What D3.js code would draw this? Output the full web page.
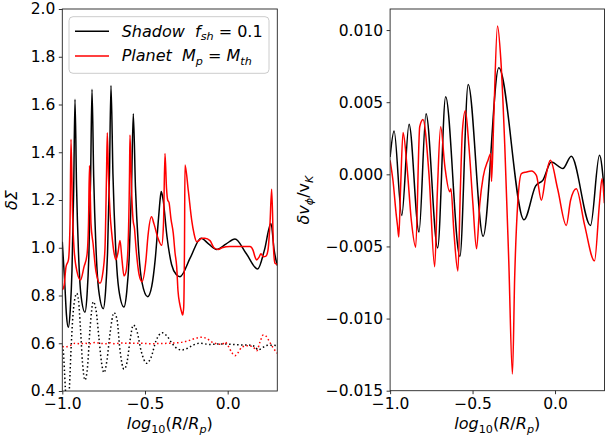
<!DOCTYPE html>
<html><head><meta charset="utf-8">
<script src="https://cdn.jsdelivr.net/npm/d3@7"></script>
<style>body{margin:0;background:#fff} svg{display:block} text{font-family:"DejaVu Sans",sans-serif;fill:#000}</style>
</head><body><svg id="c" width="605" height="441"></svg>
<script>
// ---------- Left panel: surface density ----------
const shadowSigmaX = [-1.000,-0.985,-0.975,-0.9637,-0.9516,-0.9414,-0.9313,-0.9232,-0.9141,-0.9021,-0.8870,-0.8628,-0.8501,-0.8395,-0.8289,-0.8204,-0.8102,-0.7965,-0.7794,-0.7521,-0.7382,-0.7265,-0.7149,-0.7056,-0.6938,-0.6781,-0.6584,-0.6270,-0.6101,-0.5960,-0.5819,-0.5707,-0.5577,-0.5403,-0.5185,-0.4837,-0.4590,-0.4385,-0.4179,-0.4073,-0.4015,-0.3902,-0.3676,-0.3393,-0.3110,-0.2884,-0.225,-0.1614,-0.114,-0.0665,-0.011,0.0441,0.113,0.1814,0.222,0.2618,0.281,0.300];
const shadowSigmaY = [1.025,0.85,0.72,0.667,0.743,0.906,1.240,1.622,1.265,0.980,0.801,0.730,0.805,0.964,1.290,1.664,1.296,1.002,0.819,0.745,0.820,0.979,1.306,1.680,1.309,1.012,0.826,0.752,0.817,0.954,1.238,1.561,1.255,1.009,0.856,0.795,0.839,0.949,1.126,1.21,1.236,1.20,1.05,0.93,0.888,0.879,0.96,1.040,1.015,0.993,1.015,1.037,0.975,0.911,0.99,1.102,0.99,0.925];

const planetSigmaX = [-1.000,-0.9897,-0.9776,-0.9625,-0.9534,-0.9474,-0.9383,-0.9293,-0.9111,-0.8900,-0.8688,-0.8507,-0.8416,-0.8356,-0.8265,-0.8144,-0.7963,-0.7721,-0.7539,-0.7418,-0.7328,-0.7279,-0.7207,-0.7116,-0.6995,-0.6874,-0.6753,-0.6632,-0.6511,-0.6391,-0.6270,-0.6149,-0.6028,-0.5937,-0.5907,-0.5816,-0.5725,-0.5635,-0.5544,-0.5363,-0.5181,-0.4940,-0.4819,-0.4607,-0.4456,-0.4214,-0.3990,-0.3881,-0.3791,-0.3700,-0.3628,-0.3549,-0.3428,-0.3289,-0.3186,-0.3083,-0.3005,-0.2884,-0.2781,-0.2721,-0.2660,-0.2612,-0.2582,-0.2382,-0.2177,-0.2038,-0.1874,-0.1735,-0.1572,-0.1373,-0.1070,-0.0828,-0.0568,-0.0345,0.0139,0.0744,0.1348,0.1530,0.1651,0.1753,0.1892,0.2013,0.2152,0.2316,0.2437,0.2557,0.2660,0.2769,0.2860,0.3000];
const planetSigmaY = [0.823,0.84,0.92,0.95,1.1,1.454,1.15,1.0,0.9,0.865,0.92,0.97,1.1,1.344,1.1,1.02,0.9,0.851,0.90,1.0,1.3,1.482,1.3,1.15,1.05,0.98,0.95,0.98,1.03,0.95,0.882,0.9,1.0,1.3,1.472,1.25,1.12,1.08,1.0,0.89,0.858,0.95,1.05,1.13,1.10,1.04,1.01,1.1,1.395,1.25,1.2,1.19,1.12,1.06,0.98,0.92,0.82,0.76,0.73,0.718,0.75,1.0,1.347,1.24,1.116,1.06,1.025,1.03,1.04,1.04,1.03,1.0,0.993,1.0,1.005,1.005,1.005,0.99,0.962,0.949,0.96,0.975,0.962,0.965,0.99,1.1,1.245,1.0,0.935,0.93];

const shadowDotX = [-1.000,-0.9927,-0.9867,-0.9807,-0.9746,-0.9686,-0.9625,-0.9565,-0.9474,-0.9353,-0.9232,-0.9129,-0.9021,-0.8900,-0.8779,-0.8628,-0.8476,-0.8325,-0.8126,-0.7963,-0.7781,-0.7630,-0.7479,-0.7297,-0.7116,-0.6874,-0.6693,-0.6511,-0.6270,-0.6088,-0.5907,-0.5707,-0.5484,-0.5242,-0.4897,-0.4637,-0.4335,-0.3954,-0.3670,-0.3368,-0.3065,-0.2781,-0.2461,-0.2098,-0.1675,-0.1070,-0.0465,0.0139,0.0744,0.1348,0.1651,0.1850,0.2074,0.2316,0.2557,0.3000];
const shadowDotY = [0.59,0.56,0.48,0.40,0.33,0.30,0.34,0.42,0.57,0.72,0.79,0.809,0.78,0.66,0.52,0.446,0.50,0.66,0.774,0.74,0.62,0.52,0.477,0.53,0.64,0.728,0.70,0.57,0.491,0.52,0.61,0.676,0.65,0.57,0.516,0.54,0.61,0.644,0.63,0.60,0.578,0.572,0.578,0.592,0.600,0.595,0.597,0.596,0.593,0.592,0.585,0.572,0.58,0.59,0.592,0.59];

const planetDotX = [-1.000,-0.9776,-0.9534,-0.9232,-0.8930,-0.8628,-0.8325,-0.8023,-0.7721,-0.7418,-0.7116,-0.6814,-0.6511,-0.5907,-0.5302,-0.4698,-0.4093,-0.3489,-0.2884,-0.2400,-0.1977,-0.1572,-0.1270,-0.0949,-0.0586,-0.0345,-0.0163,0.0018,0.0260,0.0441,0.0623,0.0847,0.1228,0.1530,0.1753,0.1953,0.2152,0.2316,0.2497,0.2757,0.3000];
const planetDotY = [0.585,0.585,0.59,0.6,0.598,0.6,0.598,0.603,0.6,0.598,0.602,0.598,0.601,0.6,0.6,0.598,0.599,0.6,0.603,0.61,0.62,0.625,0.62,0.605,0.597,0.595,0.605,0.59,0.56,0.548,0.56,0.583,0.59,0.585,0.569,0.605,0.635,0.63,0.61,0.58,0.558];

// ---------- Right panel: azimuthal velocity perturbation ----------
const shadowVelX = [-1.0,-0.9758,-0.9293,-0.8851,-0.8247,-0.7823,-0.7116,-0.6632,-0.5768,-0.5266,-0.4359,-0.3410,-0.1880,-0.1173,-0.0732,-0.0224,0.0478,0.0985,0.2152,0.2696,0.2992];
const shadowVelY = [0.0012,0.0030,-0.00285,0.00347,-0.0040,0.0042,-0.0051,0.00537,-0.0057,0.00623,-0.0043,0.00738,-0.00315,-0.0008,-0.0004,0.00085,0.0004,0.00125,-0.00354,0.00132,-0.0012];

const planetVelX = [-1.0,-0.9819,-0.9619,-0.9547,-0.9474,-0.9365,-0.9214,-0.8972,-0.8712,-0.8446,-0.8204,-0.8005,-0.7642,-0.7297,-0.7128,-0.6935,-0.6675,-0.6391,-0.6312,-0.6131,-0.5889,-0.5738,-0.5617,-0.5435,-0.5224,-0.4982,-0.4758,-0.4559,-0.4359,-0.4057,-0.3894,-0.3851,-0.3712,-0.3489,-0.3289,-0.3047,-0.2805,-0.2582,-0.2443,-0.2261,-0.2038,-0.1735,-0.1433,-0.1131,-0.0828,-0.0568,-0.0284,0.0157,0.0683,0.0943,0.1288,0.1790,0.2394,0.2696,0.2848,0.2992];
const planetVelY = [0.00097,-0.0005,-0.0029,-0.0036,-0.00435,-0.001,0.0029,0.0005,-0.0032,-0.00505,0.0033,0.0038,0.0,-0.0064,-0.001,0.0033,0.0005,-0.0012,-0.001,-0.004,-0.0067,-0.001,0.003,0.0044,0.002,-0.002,-0.00516,-0.002,-0.0002,0.001,0.00144,-0.0005,0.004,0.01028,0.008,0.002,-0.006,-0.01384,-0.007,-0.002,0.00005,0.00016,0.00023,-0.00007,-0.0018,-0.0002,0.00097,-0.001,-0.00354,-0.0018,-0.001,-0.0035,-0.006,-0.002,-0.0003,-0.002];

// ---------- ticks ----------
const xTicks = [-1.0, -0.5, 0.0];
const leftYTicks = [0.4,0.6,0.8,1.0,1.2,1.4,1.6,1.8,2.0];
const rightYTicks = [-0.015,-0.010,-0.005,0.000,0.005,0.010];

const svg = d3.select("#c");
const zip = (xs, ys) => xs.map((x,i)=>[x, ys[i]]);
const minus = s => s.replace(/-/g, "\u2212");

function rich(g, x, y, parts, size, anchor, rot){
  const t = g.append("text").attr("x", x).attr("y", y)
    .attr("font-size", size).attr("text-anchor", anchor||"start")
    .style("white-space","pre");
  if (rot) t.attr("transform", `rotate(${rot},${x},${y})`);
  let inSub = false; const sh = size*0.22;
  parts.forEach(p => {
    const ts = t.append("tspan").text(p.t);
    if (p.i) ts.attr("font-style","italic");
    if (p.s && !inSub){ ts.attr("dy", sh).attr("font-size", size*0.7); inSub = true; }
    else if (p.s) { ts.attr("font-size", size*0.7); }
    else if (!p.s && inSub){ ts.attr("dy", -sh); inSub = false; }
  });
  return t;
}

function panel(id, x0, x1, y0, y1, yDomain, yTicks, yFmt, series){
  const x = d3.scaleLinear().domain([-1.0, 0.3]).range([x0, x1]);
  const y = d3.scaleLinear().domain(yDomain).range([y1, y0]);
  const g = svg.append("g");
  g.append("clipPath").attr("id", id).append("rect")
    .attr("x", x0).attr("y", y0).attr("width", x1-x0).attr("height", y1-y0);
  const line = d3.line().x(d=>x(d[0])).y(d=>y(d[1])).curve(d3.curveMonotoneX);
  const cg = g.append("g").attr("clip-path", `url(#${id})`);
  series.forEach(s => {
    cg.append("path").datum(s.data).attr("d", line)
      .attr("fill","none").attr("stroke", s.color).attr("stroke-width", 1.5)
      .attr("stroke-dasharray", s.dash || null).attr("stroke-linejoin","round");
  });
  const ax = g.append("g").attr("transform", `translate(0,${y1})`)
    .call(d3.axisBottom(x).tickValues(xTicks).tickSize(3.5).tickPadding(3.5)
      .tickFormat(d => minus(d3.format(".1f")(d))));
  const ay = g.append("g").attr("transform", `translate(${x0},0)`)
    .call(d3.axisLeft(y).tickValues(yTicks).tickSize(3.5).tickPadding(3.5)
      .tickFormat(d => minus(d3.format(yFmt)(d))));
  [ax, ay].forEach(a => {
    a.select(".domain").remove();
    a.selectAll("line").attr("stroke","#000").attr("stroke-width",0.8);
    a.selectAll("text").attr("font-size", 15.5).attr("font-family","DejaVu Sans").attr("fill","#000");
  });
  g.append("rect").attr("x", x0).attr("y", y0).attr("width", x1-x0).attr("height", y1-y0)
    .attr("fill","none").attr("stroke","#222").attr("stroke-width",0.9);
  rich(g, (x0+x1)/2, 429, [{t:"log",i:1},{t:"10",s:1},{t:"("},{t:"R",i:1},{t:"/"},{t:"R",i:1},{t:"p",i:1,s:1},{t:")"}], 16, "middle");
  return g;
}

const gl = panel("clipL", 62.3, 277.3, 9, 391, [0.4, 2.0], leftYTicks, ".1f", [
  {data: zip(shadowDotX, shadowDotY), color:"#000", dash:"1.5,2.5"},
  {data: zip(planetDotX, planetDotY), color:"#ff0000", dash:"1.5,2.5"},
  {data: zip(shadowSigmaX, shadowSigmaY), color:"#000"},
  {data: zip(planetSigmaX, planetSigmaY), color:"#ff0000"}
]);
rich(gl, 17, 200, [{t:"\u03b4\u03a3", i:1}], 16, "middle", -90);

const gr = panel("clipR", 390.1, 604.5, 9, 390.7, [-0.015, 0.01146], rightYTicks, ".3f", [
  {data: zip(shadowVelX, shadowVelY), color:"#000"},
  {data: zip(planetVelX, planetVelY), color:"#ff0000"}
]);
rich(gr, 309, 200, [{t:"\u03b4v",i:1},{t:"\u03d5",i:1,s:1},{t:"/v",i:0},{t:"K",i:1,s:1}], 16, "middle", -90);

// ---------- legend ----------
const lg = svg.append("g");
lg.append("rect").attr("x",69).attr("y",16.7).attr("width",200).attr("height",56.6).attr("rx",4)
  .attr("fill","#fff").attr("fill-opacity",0.8).attr("stroke","#ccc").attr("stroke-width",1);
[["#000",31.3],["#ff0000",56]].forEach(([c,yy]) => {
  lg.append("line").attr("x1",75).attr("x2",109).attr("y1",yy).attr("y2",yy)
    .attr("stroke",c).attr("stroke-width",1.5);
});
rich(lg, 121.7, 36.5, [{t:"Shadow",i:1},{t:"\u00a0\u00a0f",i:1},{t:"sh",i:1,s:1},{t:"\u00a0=\u00a00.1"}], 16, "start");
rich(lg, 121.7, 61, [{t:"Planet",i:1},{t:"\u00a0\u00a0M",i:1},{t:"p",i:1,s:1},{t:"\u00a0=\u00a0"},{t:"M",i:1},{t:"th",i:1,s:1}], 16, "start");
</script></body></html>
